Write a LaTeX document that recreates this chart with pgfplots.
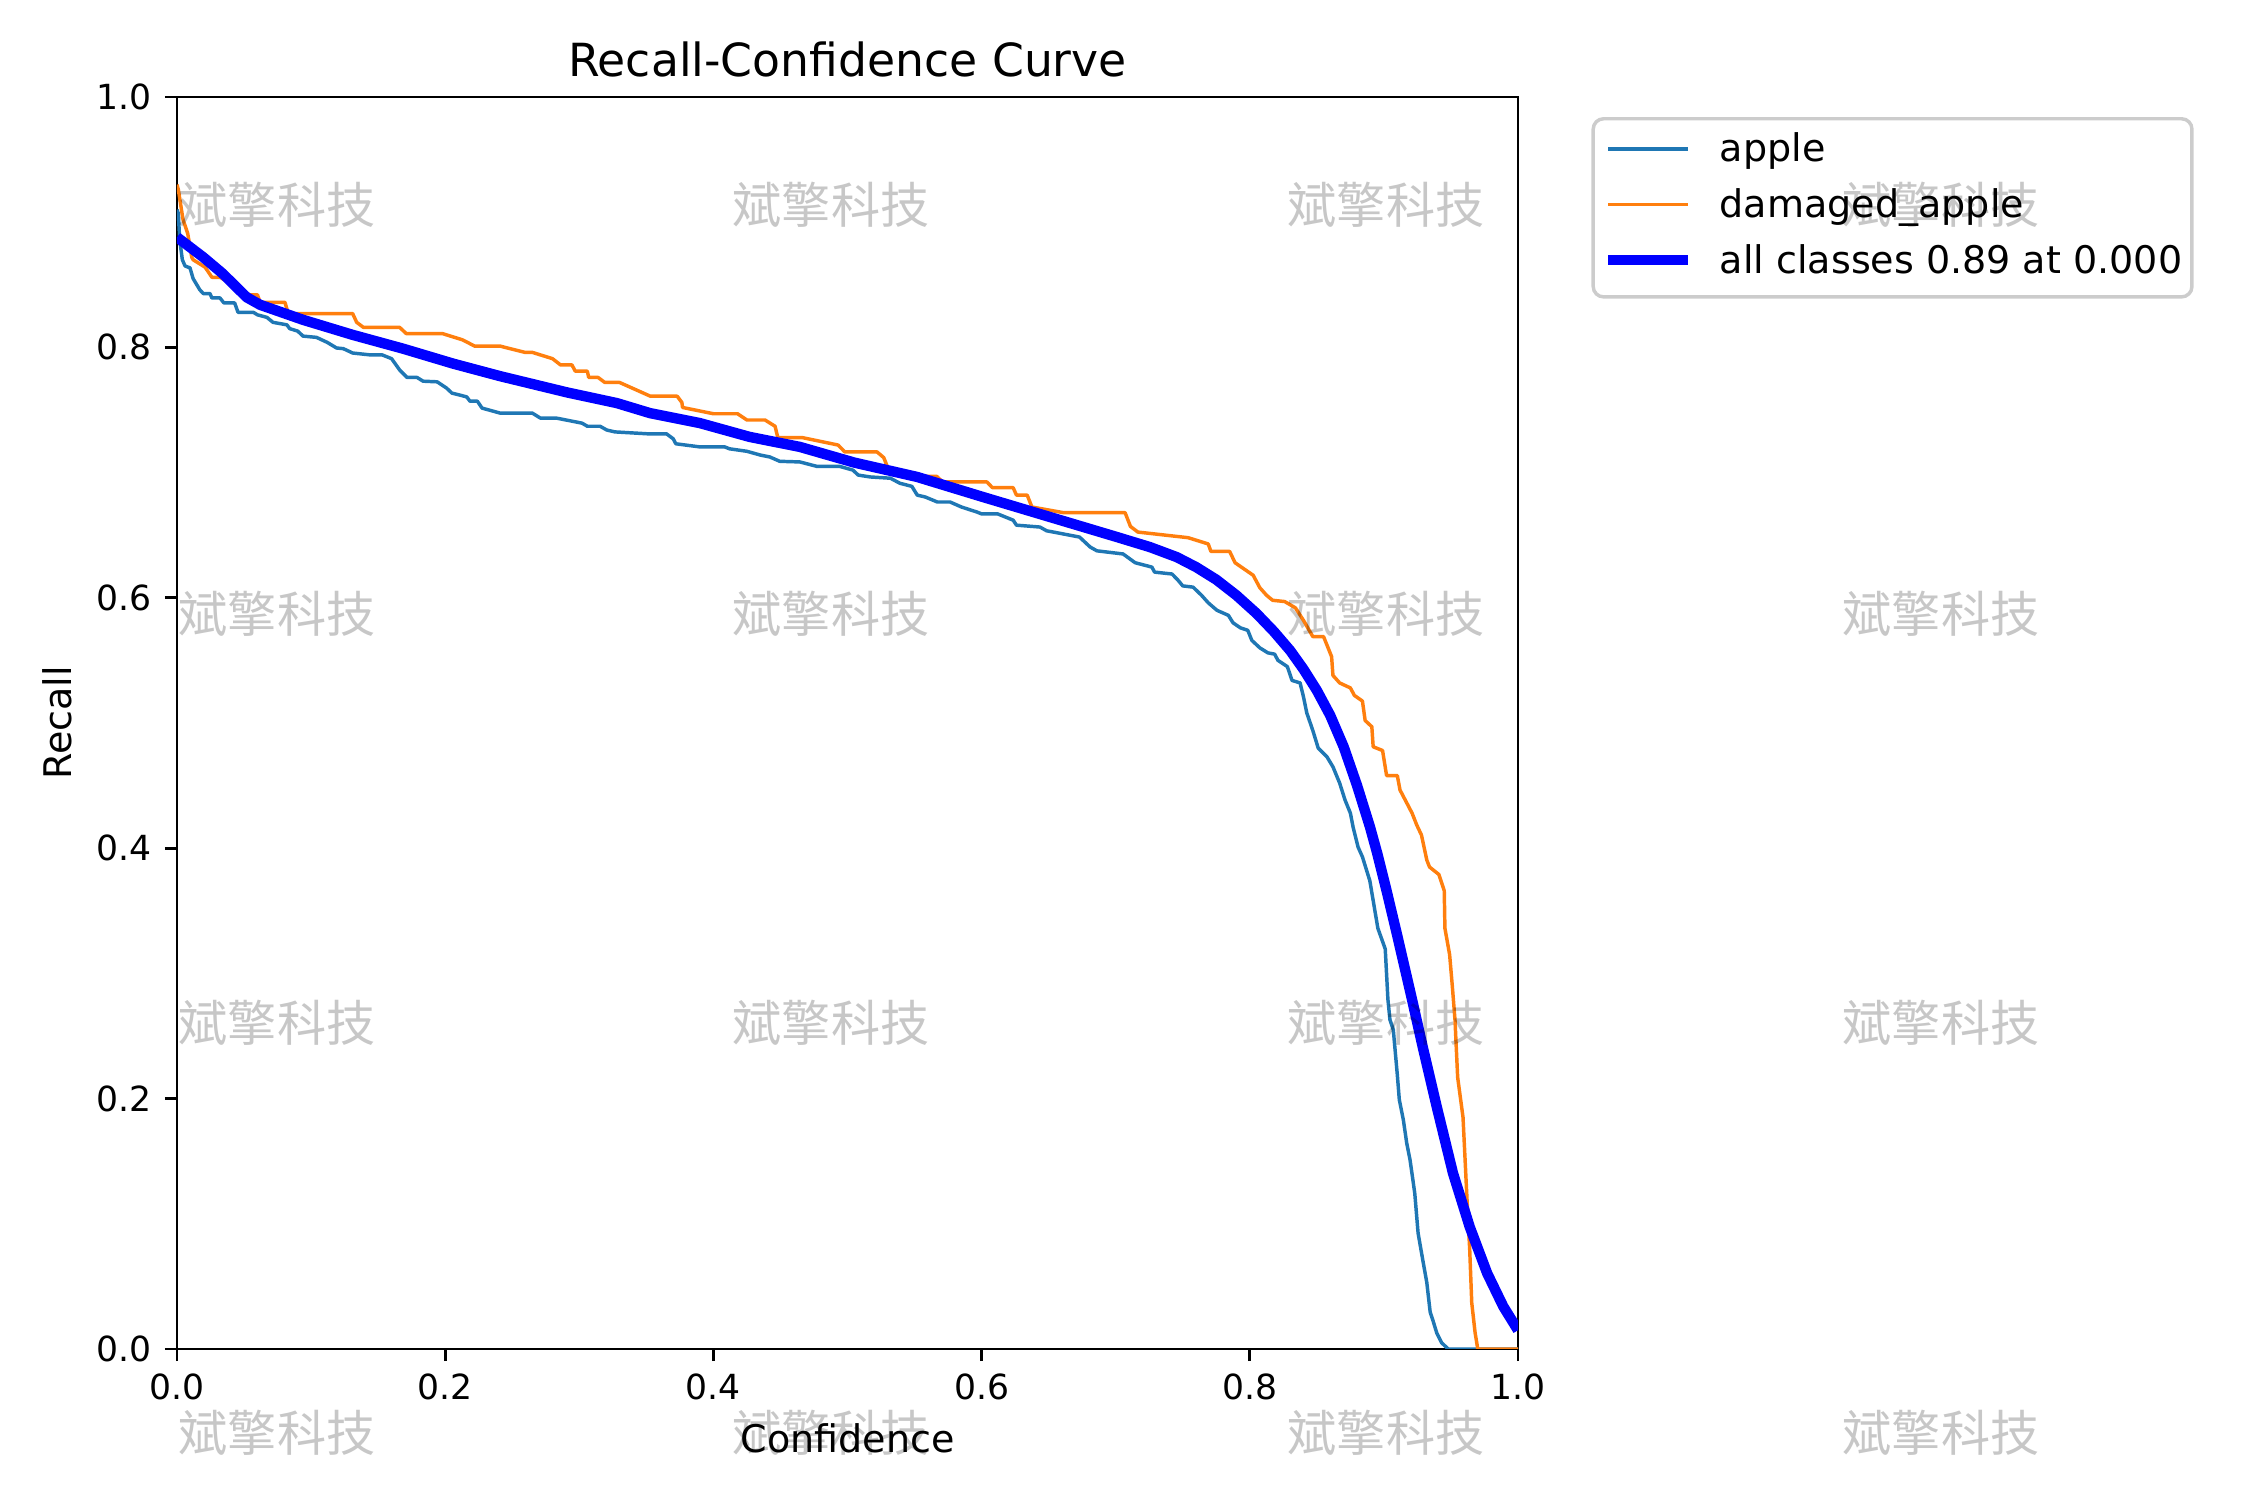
\documentclass[border=0pt]{standalone}
\usepackage{fontspec}
\setmainfont{DejaVu Sans}
\newfontfamily\cjk{Noto Sans CJK SC}
\usepackage{pgfplots}
\pgfplotsset{compat=1.18}
\definecolor{c1}{RGB}{31,119,180}
\definecolor{c2}{RGB}{255,127,14}
\definecolor{legedge}{RGB}{204,204,204}
\begin{document}
\begin{tikzpicture}
\useasboundingbox (0,0) rectangle (9in,6in);
\begin{axis}[
  at={(0.708in,0.604in)}, anchor=south west,
  scale only axis, width=5.364in, height=5.008in,
  xmin=0, xmax=1, ymin=0, ymax=1,
  xtick={0,0.2,0.4,0.6,0.8,1}, xticklabels={0.0,0.2,0.4,0.6,0.8,1.0},
  ytick={0,0.2,0.4,0.6,0.8,1}, yticklabels={0.0,0.2,0.4,0.6,0.8,1.0},
  tick pos=left, tick align=outside, major tick length=3.5pt,
  every tick/.style={black, line width=0.8pt},
  axis line style={line width=0.8pt},
  /pgf/number format/assume math mode=true,
  tick label style={font=\fontsize{10}{12}\selectfont, inner sep=0pt},
  xticklabel style={anchor=base, yshift=-11.1pt},
  yticklabel style={anchor=east, xshift=-3.6pt},
  title={Recall-Confidence Curve},
  title style={at={(axis description cs:0.5,1.016)}, anchor=base, yshift=-5.8pt, font=\fontsize{13.2}{15}\selectfont, inner sep=0pt},
  xlabel={Confidence},
  xlabel style={at={(axis description cs:0.5,-0.0823)}, anchor=base, font=\fontsize{11}{13}\selectfont, inner sep=0pt},
  ylabel={Recall},
  ylabel style={at={(axis description cs:-0.0895,0.5)}, anchor=center, font=\fontsize{11}{13}\selectfont, inner sep=0pt},
  legend cell align=left,
  legend image code/.code={\draw[#1] (0pt,3.7pt) -- (23pt,3.7pt);},
  legend style={
    at={(axis description cs:1.0548,0.984)}, anchor=north west,
    draw=legedge, line width=1pt, rounded corners=3pt,
    fill=white, fill opacity=0.8, text opacity=1, draw opacity=1,
    inner xsep=2.8pt, inner ysep=4pt,
    row sep=4.8pt, column sep=7.8pt,
    font=\fontsize{11}{13}\selectfont,
    nodes={inner sep=0pt, text height=8.4pt, text depth=2.9pt, anchor=base west},
  },
]
\addplot[c1, line width=1pt, line join=round] coordinates {
(0.000,0.910) (0.001,0.907) (0.002,0.886) (0.004,0.870) (0.006,0.865) (0.0097,0.8635)
(0.012,0.855) (0.017,0.846) (0.0196,0.843) (0.0246,0.843) (0.026,0.8395) (0.032,0.8395)
(0.035,0.8355) (0.043,0.8355) (0.0455,0.828) (0.057,0.828) (0.060,0.826) (0.067,0.824)
(0.0716,0.820) (0.082,0.818) (0.084,0.815) (0.090,0.813) (0.094,0.809) (0.104,0.808)
(0.112,0.804) (0.119,0.7995) (0.124,0.799) (0.131,0.7955) (0.144,0.794) (0.153,0.794)
(0.160,0.791) (0.166,0.782) (0.1715,0.776) (0.179,0.776) (0.1835,0.773) (0.194,0.7725)
(0.201,0.7675) (0.205,0.7635) (0.216,0.7605) (0.2185,0.757) (0.224,0.757) (0.2275,0.7515)
(0.241,0.7475) (0.265,0.7475) (0.271,0.7435) (0.283,0.7435) (0.302,0.7395) (0.306,0.737)
(0.3155,0.737) (0.3205,0.734) (0.3265,0.7325) (0.3505,0.731) (0.365,0.731) (0.370,0.727)
(0.372,0.723) (0.390,0.7205) (0.4085,0.7205) (0.412,0.719) (0.425,0.717) (0.435,0.714)
(0.442,0.7125) (0.4495,0.709) (0.4645,0.7085) (0.477,0.705) (0.494,0.705) (0.504,0.702)
(0.508,0.698) (0.517,0.6965) (0.532,0.6955) (0.539,0.6915) (0.548,0.689) (0.552,0.682)
(0.558,0.6805) (0.567,0.6765) (0.5765,0.6765) (0.585,0.6725) (0.5965,0.6685) (0.600,0.667)
(0.612,0.667) (0.6235,0.662) (0.626,0.658) (0.6435,0.6565) (0.6485,0.6535) (0.656,0.652)
(0.673,0.6485) (0.681,0.6405) (0.686,0.6375) (0.7055,0.635) (0.7145,0.628) (0.727,0.6245)
(0.729,0.6205) (0.742,0.619) (0.7465,0.614) (0.750,0.6095) (0.7577,0.6085) (0.764,0.602)
(0.769,0.596) (0.7755,0.590) (0.784,0.586) (0.7875,0.580) (0.793,0.576) (0.7985,0.574)
(0.8015,0.566) (0.8075,0.560) (0.8135,0.556) (0.8185,0.555) (0.821,0.550) (0.828,0.545)
(0.8315,0.534) (0.8375,0.532) (0.840,0.521) (0.8425,0.508) (0.847,0.494) (0.851,0.480)
(0.8575,0.473) (0.862,0.465) (0.867,0.452) (0.871,0.4385) (0.875,0.428) (0.877,0.417)
(0.8807,0.401) (0.884,0.393) (0.8895,0.374) (0.8955,0.336) (0.901,0.3195) (0.903,0.279)
(0.9045,0.263) (0.907,0.255) (0.910,0.219) (0.9115,0.199) (0.9145,0.183) (0.917,0.1645)
(0.9195,0.151) (0.923,0.1245) (0.9255,0.0925) (0.929,0.071) (0.932,0.053) (0.9345,0.0295)
(0.9365,0.023) (0.9395,0.0125) (0.943,0.005) (0.948,0.0) (1.0,0.0)
};
\addlegendentry{apple}
\addplot[c2, line width=1pt, line join=round] coordinates {
(0.000,0.930) (0.001,0.926) (0.0045,0.902) (0.008,0.891) (0.011,0.872) (0.012,0.870)
(0.021,0.864) (0.026,0.856) (0.032,0.856) (0.045,0.848) (0.054,0.842) (0.060,0.842)
(0.062,0.836) (0.0805,0.836) (0.083,0.827) (0.131,0.827) (0.134,0.820) (0.139,0.816)
(0.166,0.816) (0.171,0.811) (0.198,0.811) (0.213,0.806) (0.222,0.801) (0.241,0.801)
(0.2595,0.796) (0.265,0.796) (0.280,0.791) (0.286,0.786) (0.2945,0.786) (0.297,0.781)
(0.306,0.781) (0.307,0.776) (0.314,0.776) (0.319,0.772) (0.330,0.772) (0.353,0.761)
(0.373,0.761) (0.3765,0.756) (0.377,0.752) (0.400,0.747) (0.418,0.747) (0.425,0.742)
(0.4385,0.742) (0.446,0.737) (0.448,0.728) (0.466,0.728) (0.493,0.722) (0.498,0.7165)
(0.522,0.7165) (0.527,0.712) (0.530,0.704) (0.549,0.697) (0.5665,0.697) (0.571,0.6925)
(0.604,0.6925) (0.608,0.688) (0.6235,0.688) (0.626,0.682) (0.634,0.682) (0.6375,0.6725)
(0.661,0.668) (0.707,0.668) (0.711,0.657) (0.7165,0.6525) (0.754,0.648) (0.769,0.643)
(0.771,0.637) (0.785,0.637) (0.789,0.628) (0.8025,0.618) (0.8075,0.608) (0.8125,0.602)
(0.817,0.598) (0.826,0.597) (0.834,0.592) (0.840,0.582) (0.847,0.569) (0.855,0.569)
(0.861,0.553) (0.862,0.538) (0.867,0.532) (0.875,0.528) (0.878,0.522) (0.884,0.5175)
(0.886,0.502) (0.891,0.497) (0.892,0.481) (0.899,0.478) (0.902,0.458) (0.910,0.458)
(0.912,0.4465) (0.921,0.428) (0.9245,0.4185) (0.928,0.4105) (0.932,0.3905) (0.934,0.385)
(0.941,0.379) (0.945,0.366) (0.9455,0.336) (0.949,0.315) (0.951,0.290) (0.953,0.263)
(0.955,0.217) (0.959,0.185) (0.962,0.119) (0.964,0.079) (0.9655,0.037) (0.968,0.013)
(0.970,0.0) (1.0,0.0)
};
\addlegendentry{damaged\_apple}
\addplot[blue, line width=3pt, line join=round] coordinates {
(0.000,0.888) (0.0196,0.872) (0.034,0.859) (0.052,0.840) (0.062,0.834) (0.094,0.822)
(0.131,0.810) (0.1685,0.799) (0.206,0.787) (0.241,0.777) (0.291,0.764) (0.328,0.7555)
(0.3527,0.7475) (0.390,0.7395) (0.427,0.7285) (0.4645,0.7205) (0.505,0.708) (0.552,0.6965)
(0.601,0.6805) (0.651,0.6645) (0.701,0.6485) (0.7255,0.6405) (0.7455,0.6325) (0.760,0.6245)
(0.775,0.6145) (0.790,0.6020) (0.805,0.5875) (0.818,0.5730) (0.830,0.5580) (0.840,0.5430)
(0.850,0.5260) (0.860,0.5060) (0.870,0.4810) (0.880,0.4500) (0.8896,0.4170) (0.895,0.3960)
(0.902,0.3660) (0.910,0.3300) (0.921,0.2790) (0.929,0.2410) (0.9395,0.1930) (0.9515,0.1405)
(0.964,0.0975) (0.977,0.0605) (0.989,0.0340) (1.000,0.0150)
};
\addlegendentry{all classes 0.89 at 0.000}
\end{axis}
\foreach \wx in {1.108in,3.324in,5.544in,7.764in}{
  \foreach \wy in {5.104in,3.468in,1.832in,0.196in}{
    \node[anchor=base, inner sep=0pt, text opacity=0.22, font=\cjk\fontsize{14.2}{14.2}\selectfont] at (\wx,\wy) {斌擎科技};
  }
}
\end{tikzpicture}
\end{document}
